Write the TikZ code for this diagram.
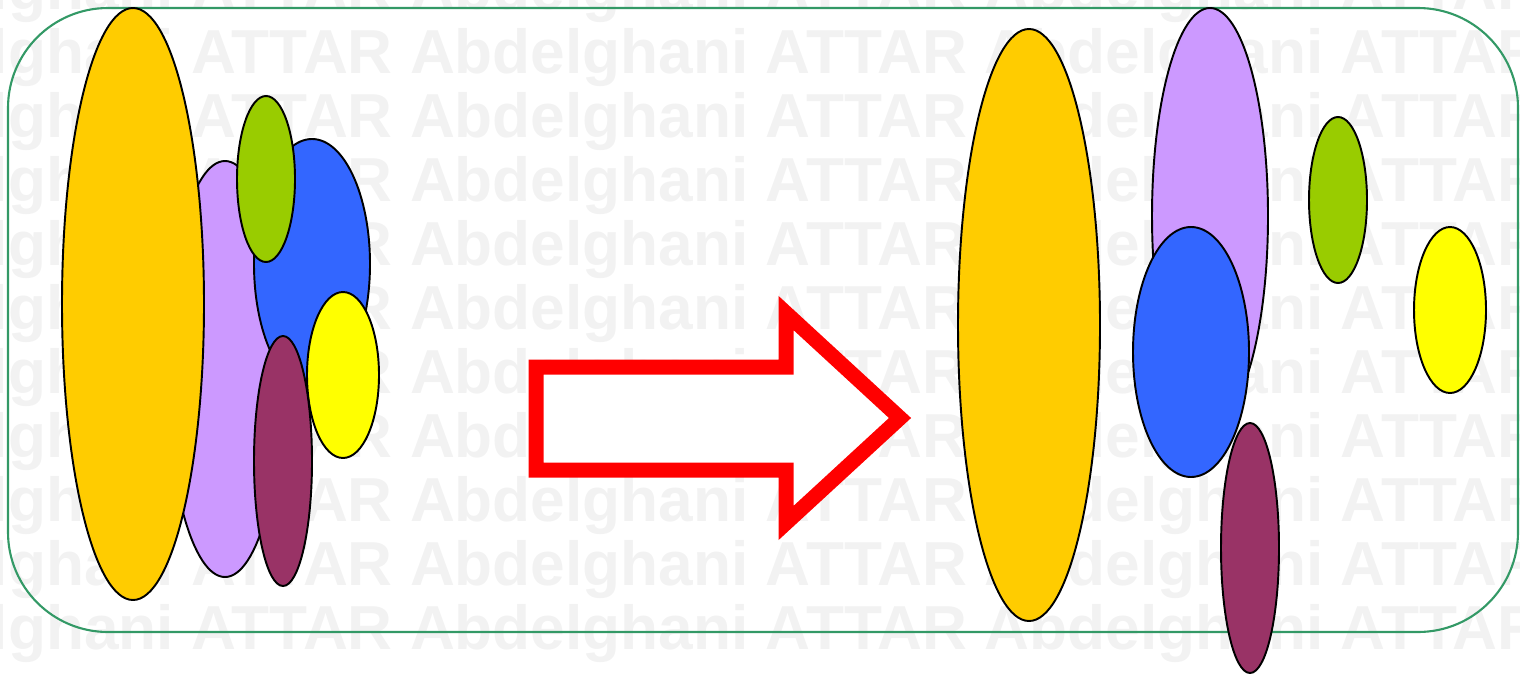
\documentclass[tikz,border=0pt]{standalone}
\usepackage{fontspec}
\newfontfamily\wmfont{Liberation Sans}
\usetikzlibrary{calc}
\definecolor{gold}{RGB}{255,204,0}
\definecolor{lavender}{RGB}{204,153,255}
\definecolor{lime}{RGB}{153,204,0}
\definecolor{royal}{RGB}{51,102,255}
\definecolor{lemon}{RGB}{255,255,0}
\definecolor{plum}{RGB}{153,51,102}
\definecolor{seagreen}{RGB}{51,153,102}
\definecolor{wmgray}{RGB}{242,242,242}

\begin{document}
\begin{tikzpicture}[x=0.02cm,y=-0.02cm,
		blob/.style={draw=black,line width=1.1pt},
		wmtext/.style={anchor=base west,inner sep=0pt,text=wmgray,
			font=\wmfont\bfseries\fontsize{35.4}{40}\selectfont}]
	\useasboundingbox (0,0) rectangle (1520,673);
	
	% Watermark
	\begin{scope}
		\clip (0,0) rectangle (1520,673);
		\foreach \r in {0,...,10}
			\node[wmtext] (wm\r) at (-165,9+64*\r) {Abdelghani ATTAR Abdelghani ATTAR Abdelghani ATTAR};
	\end{scope}
	
	% Frame
	\draw[seagreen,line width=1.2pt,rounded corners=2cm] (8,8) rectangle (1518,632);
	
	% Before
	\draw[blob,fill=lavender] (225,369) ellipse (58 and 208);
	\draw[blob,fill=gold] (133,304) ellipse (71 and 296);
	\draw[blob,fill=royal] (312,264) ellipse (58 and 125);
	\draw[blob,fill=lime] (266,179) ellipse (29 and 83);
	\draw[blob,fill=lemon] (343,375) ellipse (36 and 83);
	\draw[blob,fill=plum] (283,461) ellipse (29 and 125);
	
	% Arrow
	\draw[red,line width=0.3cm,line join=miter,fill=white]
		(536,367) -- (786,367) -- (786,313) -- (900,418) -- (786,523) -- (786,470) -- (536,470) -- cycle;
	
	% After
	\draw[blob,fill=gold] (1029,325) ellipse (71 and 296);
	\draw[blob,fill=lavender] (1210,216) ellipse (58 and 208);
	\draw[blob,fill=royal] (1191,352) ellipse (58 and 125);
	\draw[blob,fill=plum] (1250,548) ellipse (29 and 125);
	\draw[blob,fill=lime] (1338,200) ellipse (29 and 83);
	\draw[blob,fill=lemon] (1450,310) ellipse (36 and 83);
\end{tikzpicture}
\end{document}
